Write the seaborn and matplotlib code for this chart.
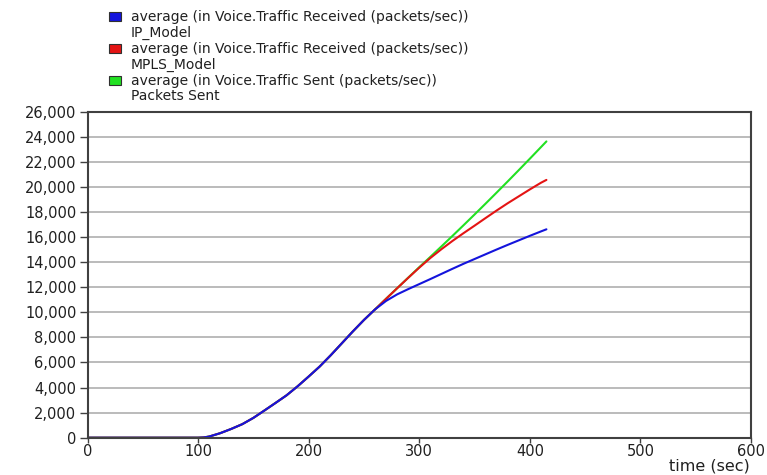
import matplotlib
matplotlib.use("Agg")
import matplotlib.pyplot as plt
import seaborn as sns
import pandas as pd
from matplotlib.patches import Rectangle
from matplotlib.ticker import FuncFormatter

# Simulation time (sec)
time_sec = [0, 50, 100, 105, 110, 120, 130, 140, 150, 160, 170, 180, 190, 200,
            210, 220, 230, 240, 250, 260, 270, 280, 290, 300, 310, 320, 330,
            340, 350, 360, 370, 380, 390, 400, 410, 415]

# Voice traffic received, IP model (packets/sec)
ip_model = [0, 0, 0, 20, 90, 360, 700, 1080, 1580, 2170, 2770, 3380, 4100, 4880,
            5680, 6580, 7530, 8480, 9390, 10230, 10910, 11430, 11850, 12250,
            12650, 13060, 13470, 13870, 14250, 14630, 15010, 15380, 15740,
            16100, 16450, 16620]

# Voice traffic received, MPLS model (packets/sec)
mpls_model = [0, 0, 0, 20, 90, 360, 700, 1080, 1580, 2170, 2770, 3380, 4100, 4880,
              5680, 6580, 7530, 8480, 9390, 10230, 11080, 11920, 12750, 13560,
              14330, 15030, 15690, 16310, 16910, 17520, 18120, 18700, 19250,
              19800, 20330, 20560]

# Voice traffic sent (packets/sec)
packets_sent = [0, 0, 0, 20, 90, 360, 700, 1080, 1580, 2170, 2770, 3380, 4100, 4880,
                5680, 6580, 7530, 8480, 9390, 10230, 11080, 11920, 12760, 13600,
                14420, 15250, 16090, 16940, 17800, 18670, 19550, 20440, 21340,
                22250, 23170, 23630]

series_names = ["IP_Model", "MPLS_Model", "Packets Sent"]
series_titles = ["average (in Voice.Traffic Received (packets/sec))",
                 "average (in Voice.Traffic Received (packets/sec))",
                 "average (in Voice.Traffic Sent (packets/sec))"]
series_colors = ["#1414dc", "#e41414", "#22e022"]

x_ticks = [0, 100, 200, 300, 400, 500, 600]
y_ticks = list(range(0, 26001, 2000))

sns.set_style("white")
plt.rcParams["font.family"] = ["DejaVu Sans"]

W, H = 767, 475
fig = plt.figure(figsize=(W / 100, H / 100), dpi=100)
ax = fig.add_axes([87.5 / W, 1 - 437.7 / H, (751 - 87.5) / W, (437.7 - 111.7) / H])

df = pd.DataFrame({"time": time_sec, "IP_Model": ip_model,
                   "MPLS_Model": mpls_model, "Packets Sent": packets_sent})

# Sent drawn first so the received curves sit on top where they coincide
for name, color in reversed(list(zip(series_names, series_colors))):
    sns.lineplot(data=df, x="time", y=name, color=color, linewidth=1.5,
                 ax=ax, legend=False)

ax.set_xlim(0, 600)
ax.set_ylim(0, 26000)
ax.set_xticks(x_ticks)
ax.set_yticks(y_ticks)
ax.yaxis.set_major_formatter(FuncFormatter(lambda v, _: f"{int(v):,}"))
ax.set_xlabel("")
ax.set_ylabel("")

ax.grid(axis="y", color="#a8a8a8", linewidth=1.1)
ax.grid(axis="x", visible=False)
for side in ["left", "bottom", "top", "right"]:
    ax.spines[side].set_color("#404040")
    ax.spines[side].set_linewidth(1.5)

ax.tick_params(axis="y", direction="out", length=6, width=1.0, color="#404040",
               labelsize=10.5, labelcolor="#202020", pad=2, left=True)
ax.tick_params(axis="x", direction="out", length=3.5, width=1.0, color="#404040",
               labelsize=10.5, labelcolor="#202020", pad=1, bottom=True)

fig.text(750 / W, 1 - 466 / H, "time (sec)", ha="right", va="center",
         fontsize=11.5, color="#202020")

# Legend block above the plot
for i, (title, name, color) in enumerate(zip(series_titles, series_names, series_colors)):
    yc = 16.5 + i * 32
    fig.add_artist(Rectangle((109 / W, 1 - (yc + 4.5) / H), 12 / W, 9 / H,
                             transform=fig.transFigure, facecolor=color,
                             edgecolor="#303030", linewidth=0.8))
    fig.text(131 / W, 1 - yc / H, title, ha="left", va="center",
             fontsize=10, color="#202020")
    fig.text(131 / W, 1 - (yc + 16) / H, name, ha="left", va="center",
             fontsize=10, color="#202020")

fig.savefig("out.png", dpi=100, facecolor="white")
